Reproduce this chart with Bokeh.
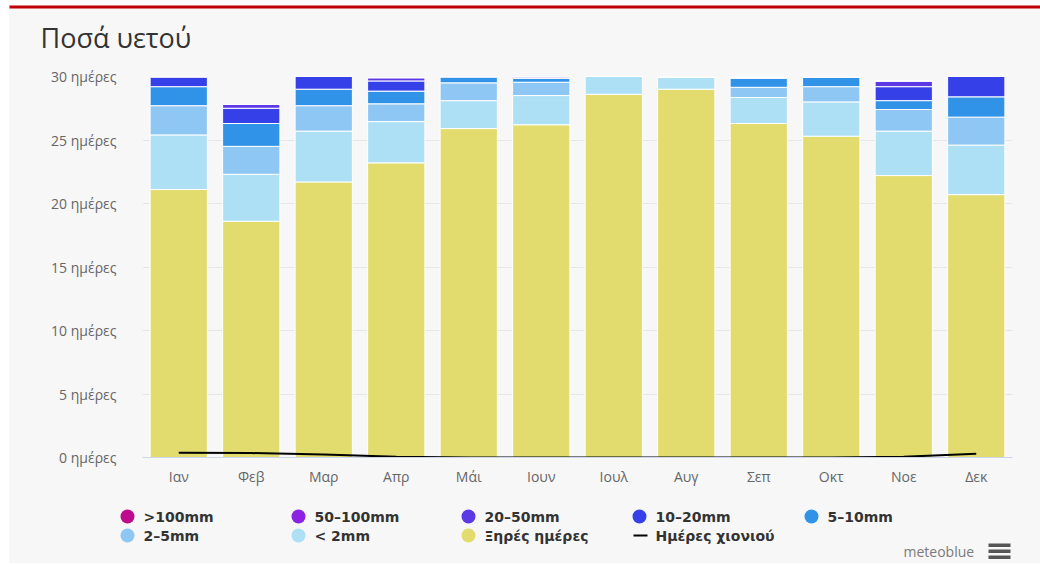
from bokeh.plotting import figure
from bokeh.layouts import column, row
from bokeh.models import (FactorRange, Range1d, Label, ColumnDataSource, SingleIntervalTicker,
                          CustomJSTickFormatter, Spacer)
from bokeh.core.properties import value
from bokeh.embed import file_html
from bokeh.resources import INLINE

months = ["Ιαν", "Φεβ", "Μαρ", "Απρ", "Μάι", "Ιουν", "Ιουλ", "Αυγ", "Σεπ", "Οκτ", "Νοε", "Δεκ"]
dry = [21.1, 18.6, 21.7, 23.2, 25.9, 26.2, 28.6, 29.0, 26.3, 25.3, 22.2, 20.7]
lt2 = [4.3, 3.7, 4.0, 3.25, 2.2, 2.3, 1.4, 0.95, 2.05, 2.7, 3.5, 3.9]
mm2_5 = [2.3, 2.2, 2.0, 1.4, 1.4, 1.05, 0, 0, 0.8, 1.2, 1.7, 2.2]
mm5_10 = [1.5, 1.8, 1.3, 1.0, 0.45, 0.3, 0, 0, 0.7, 0.75, 0.7, 1.6]
mm10_20 = [0.75, 1.2, 1.0, 0.8, 0.05, 0.1, 0, 0, 0.1, 0, 1.1, 1.6]
mm20_50 = [0.05, 0.3, 0, 0.26, 0, 0.05, 0, 0, 0, 0, 0.45, 0]
mm50_100 = [0, 0, 0, 0, 0, 0, 0, 0, 0, 0, 0, 0]
gt100 = [0, 0, 0, 0, 0, 0, 0, 0, 0, 0, 0, 0]
snow = [0.37, 0.35, 0.24, 0.05, 0, 0, 0, 0, 0, 0, 0.05, 0.3]

series_names = ["Ξηρές ημέρες", "< 2mm", "2–5mm", "5–10mm", "10–20mm", "20–50mm", "50–100mm", ">100mm"]
keys = ["dry", "lt2", "mm2_5", "mm5_10", "mm10_20", "mm20_50", "mm50_100", "gt100"]
colors = ["#e2dc6e", "#ade0f4", "#8ec6f4", "#3093e8", "#3540e8", "#5b3ae6", "#8c22e2", "#be0a8c"]
legend_rows = [[">100mm", "50–100mm", "20–50mm", "10–20mm", "5–10mm"],
               ["2–5mm", "< 2mm", "Ξηρές ημέρες", "Ημέρες χιονιού"]]
snow_name = "Ημέρες χιονιού"

BG = "#f7f7f7"
W = 1031  # page x 9 .. 1040


def no_align(f):
    try:
        f.frame_align = False
    except Exception:
        pass


def blank(height):
    f = figure(width=W, height=height, x_range=Range1d(0, W),
               y_range=Range1d(height, 0), output_backend="svg", toolbar_location=None,
               min_border=0, min_border_left=0, min_border_right=0,
               min_border_top=0, min_border_bottom=0)
    f.axis.visible = False
    f.grid.visible = False
    f.outline_line_color = None
    f.background_fill_color = BG
    f.border_fill_color = BG
    no_align(f)
    return f


# ---------- header ----------
hdr = blank(60)
hdr.quad(left=[-9], right=[W + 1], top=[-1], bottom=[5], color="white", line_color=None)
hdr.quad(left=[-1], right=[W + 1], top=[5], bottom=[8], color="#c00000", line_color=None)
hdr.add_layout(Label(x=31, y=37, text="Ποσά υετού", text_font="Open Sans",
                     text_font_size="27px", text_color="#333333", text_baseline="middle"))

# ---------- main chart ----------
source = ColumnDataSource(dict(month=months, dry=dry, lt2=lt2, mm2_5=mm2_5, mm5_10=mm5_10,
                               mm10_20=mm10_20, mm20_50=mm20_50, mm50_100=mm50_100,
                               gt100=gt100, snow=snow))

p = figure(width=W, height=435, x_range=FactorRange(*months, range_padding=0),
           y_range=Range1d(0, 30), output_backend="svg", toolbar_location=None,
           min_border_left=133, min_border_right=28, min_border_top=16, min_border_bottom=38)
p.background_fill_color = BG
p.border_fill_color = BG
p.outline_line_color = None
no_align(p)

p.vbar_stack(keys, x="month", width=0.79, source=source, color=colors,
             line_color="white", line_width=1)
p.line(x="month", y="snow", source=source, line_color="black", line_width=2)

p.yaxis.ticker = SingleIntervalTicker(interval=5)
p.yaxis.formatter = CustomJSTickFormatter(code="return tick + ' ημέρες';")
p.yaxis.axis_line_color = None
p.yaxis.major_tick_line_color = None
p.yaxis.minor_tick_line_color = None
p.yaxis.major_label_standoff = 20
p.yaxis.major_label_text_font = "Open Sans"
p.yaxis.major_label_text_font_size = "14px"
p.yaxis.major_label_text_color = "#666666"

p.xaxis.axis_line_color = "#ccd6eb"
p.xaxis.major_tick_line_color = None
p.xaxis.minor_tick_line_color = None
p.xaxis.major_tick_out = 0
p.xaxis.major_label_standoff = 9
p.xaxis.major_label_text_font = "Open Sans"
p.xaxis.major_label_text_font_size = "14px"
p.xaxis.major_label_text_color = "#666666"

p.xgrid.grid_line_color = None
p.ygrid.grid_line_color = "#e6e6e6"

# ---------- footer: legend + credit ----------
ftr = blank(68)
col_x = [118, 289, 459, 630, 802]   # circle centres (figure px)
row_y = [21, 40]
cx, cy, cc, tx, ty, tt = [], [], [], [], [], []
for ri, names in enumerate(legend_rows):
    for ci, name in enumerate(names):
        tx.append(col_x[ci] + 16)
        ty.append(row_y[ri])
        tt.append(name)
        if name == snow_name:
            continue
        cx.append(col_x[ci])
        cy.append(row_y[ri])
        cc.append(colors[series_names.index(name)])
ftr.scatter(x=cx, y=cy, color=cc, size=14, marker="circle", line_color=None)
si = [i for i, t in enumerate(tt) if t == snow_name][0]
ftr.segment(x0=[tx[si] - 22], y0=[ty[si]], x1=[tx[si] - 8], y1=[ty[si]],
            line_color="black", line_width=2)
ftr.text(x=tx, y=ty, text=tt, text_font=value("DejaVu Sans"), text_font_style="bold",
         text_font_size="14px", text_color="#333333", text_baseline="middle")
ftr.add_layout(Label(x=894, y=56, text="meteoblue", text_font="Open Sans",
                     text_font_size="14px", text_color="#7a7a7a", text_baseline="middle"))
ftr.quad(left=[979, 979, 979], right=[1001, 1001, 1001], top=[48, 54, 60], bottom=[51.5, 57.5, 63.5],
         color="#555555", line_color=None)

layout = row(Spacer(width=9, height=563),
             column(hdr, p, ftr, spacing=0, styles={"background-color": BG}))
open("out.html", "w").write(file_html(layout, INLINE))
